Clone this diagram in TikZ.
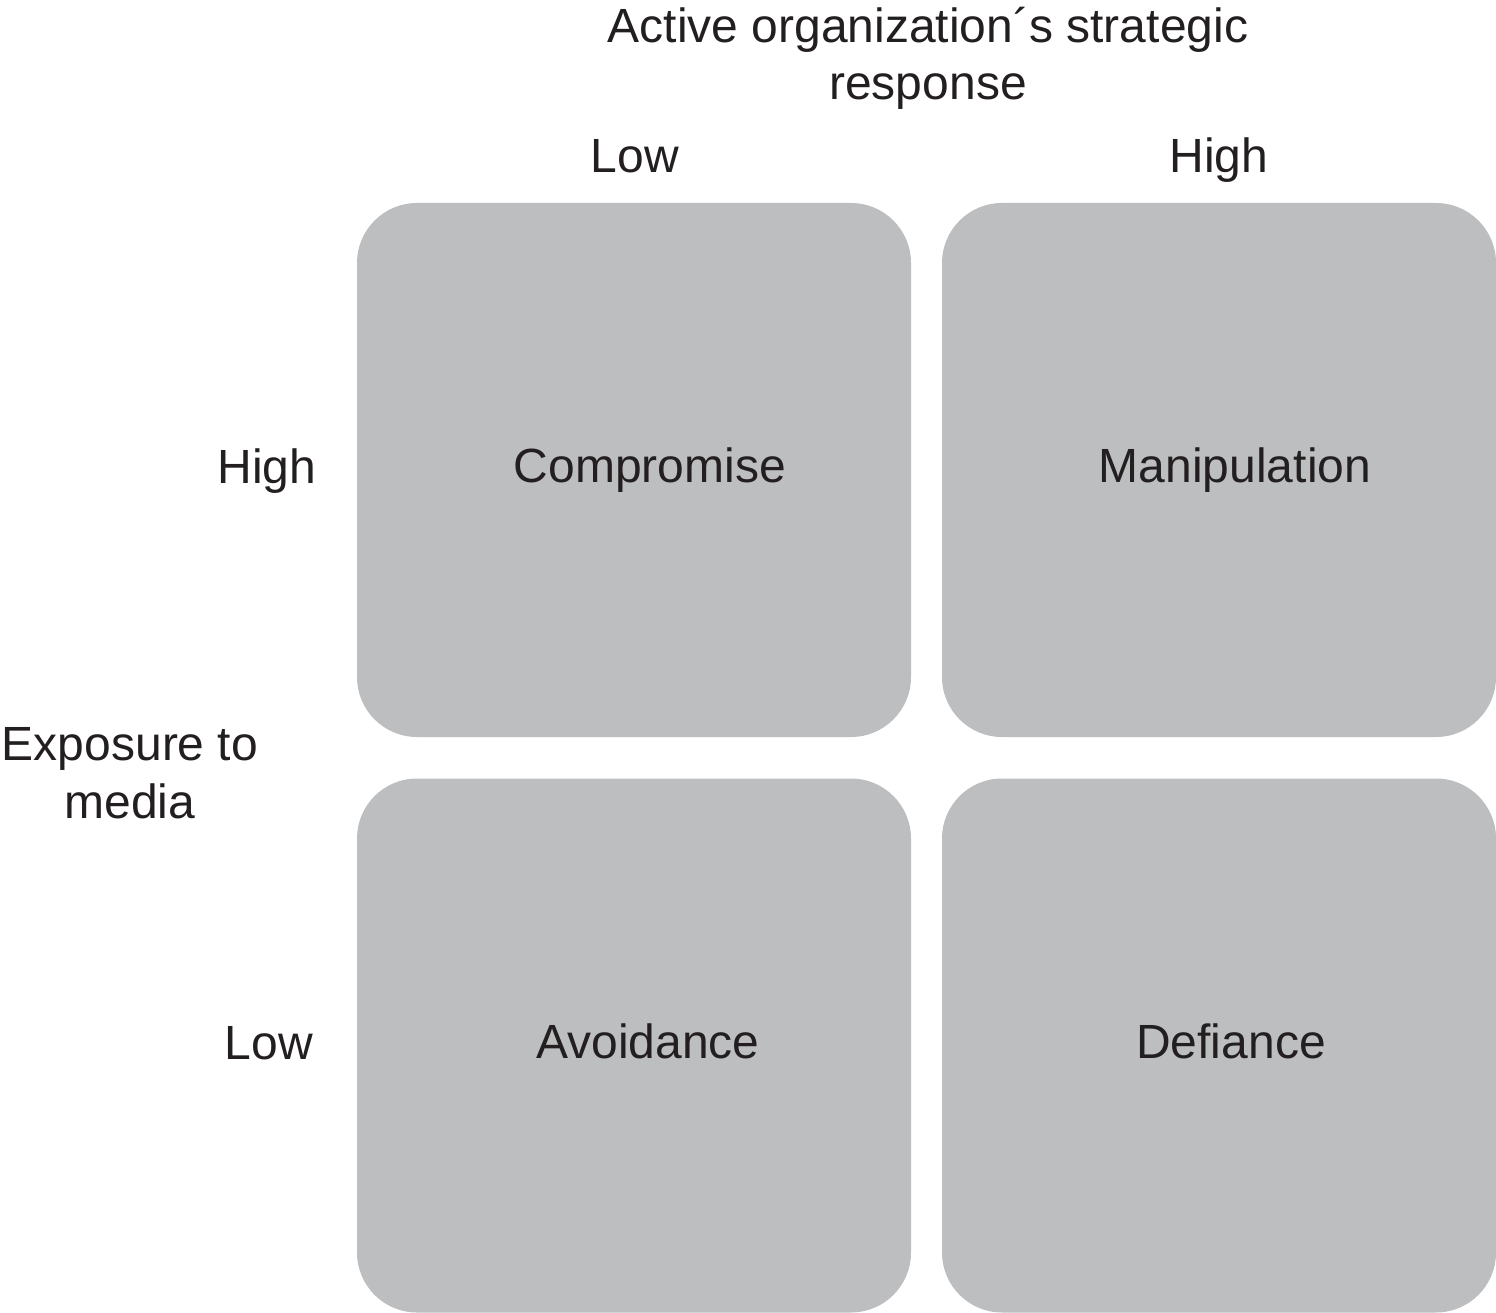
\documentclass[tikz,border=0pt]{standalone}
\usepackage{fontspec}
\setmainfont{Liberation Sans}
\usetikzlibrary{positioning}
\definecolor{boxgray}{RGB}{189,190,192}
\definecolor{ink}{RGB}{35,31,32}
\begin{document}
\begin{tikzpicture}[x=1pt,y=-1pt,
  cell/.style={fill=boxgray,rounded corners=60pt,minimum width=554pt,minimum height=534pt,inner sep=0pt},
  lbl/.style={text=ink,font=\fontsize{48}{57.5}\selectfont,inner sep=0pt,anchor=base,align=center}]
  \useasboundingbox (0,0) rectangle (1496,1313);
  % quadrants
  \node[cell] (comp) at (634,470) {};
  \node[cell] (mani) at (1219,470) {};
  \node[cell] (avoi) at (634,1045.5) {};
  \node[cell] (defi) at (1219,1045.5) {};
  \node[lbl] (compt) at (650,482) {Compromise};
  \node[lbl] (manit) at (1235,482) {Manipulation};
  \node[lbl] (avoit) at (648,1058) {Avoidance};
  \node[lbl] (defit) at (1231,1058) {Defiance};
  % axis labels (base = last line)
  \node[lbl] (title) at (928,100) {Active organization´s strategic\\response};
  \node[lbl] (xlow) at (635,173) {Low};
  \node[lbl] (xhigh) at (1219,173) {High};
  \node[lbl] (yhigh) at (267,483) {High};
  \node[lbl] (ylow) at (269,1059) {Low};
  \node[lbl] (ytitle) at (130,818) {Exposure to\\media};
\end{tikzpicture}
\end{document}
